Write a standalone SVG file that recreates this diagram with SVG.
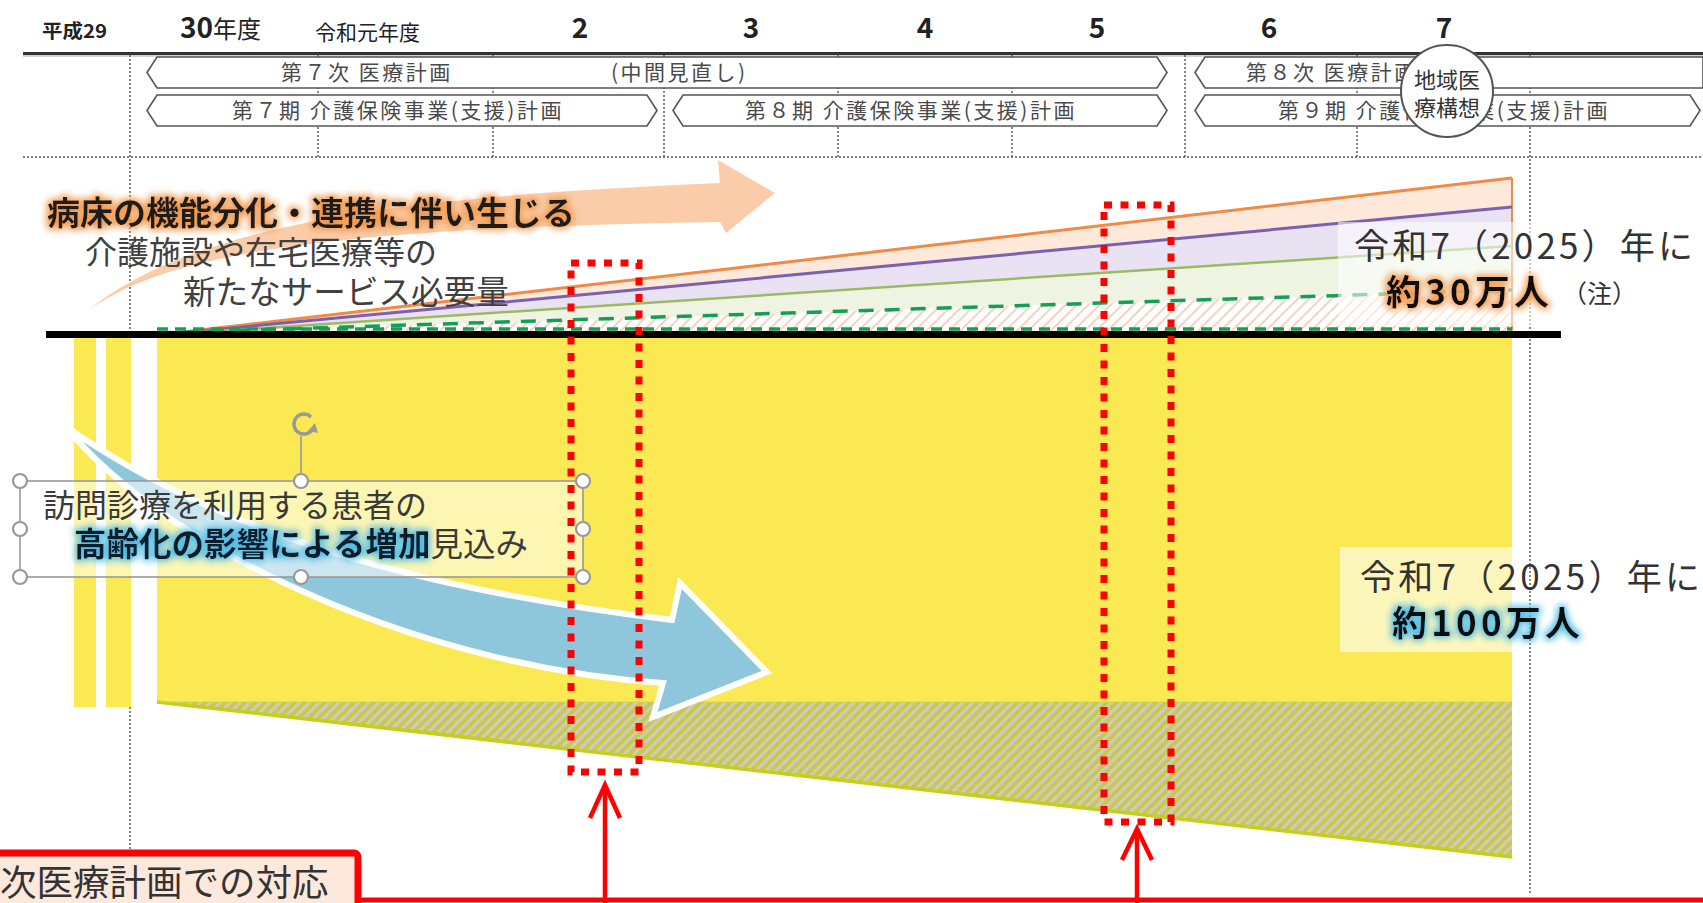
<svg xmlns="http://www.w3.org/2000/svg" width="1703" height="903" viewBox="0 0 1703 903">
<defs>
<style>
.jp{font-family:"Noto Sans CJK JP","Noto Sans",sans-serif;font-variant-ligatures:none;font-feature-settings:"liga" 0,"dlig" 0;}
.yr{font-family:"Noto Sans CJK JP","Noto Sans",sans-serif;font-weight:bold;fill:#222;}
.band{fill:#fff;stroke:#555;stroke-width:1.6;}
.bt{font-family:"Noto Sans CJK JP",sans-serif;font-size:21px;letter-spacing:2.5px;fill:#4a4a4a;}
.vd{stroke:#555;stroke-width:1.4;stroke-dasharray:2 2;fill:none;}
.handle{fill:#fff;stroke:#999;stroke-width:2.2;}
.reddot{fill:none;stroke:#ff0000;stroke-width:7;stroke-dasharray:8 8.5;}
.redarrow{fill:none;stroke:#ff0000;stroke-width:4.5;}
</style>
<pattern id="hatchY" patternUnits="userSpaceOnUse" width="7" height="7" patternTransform="rotate(45)">
<rect width="7" height="7" fill="#c8c94a"/>
<rect width="3.2" height="7" fill="#d0cabf"/>
</pattern>
<pattern id="hatchP" patternUnits="userSpaceOnUse" width="8" height="8" patternTransform="rotate(45)">
<rect width="8" height="8" fill="#ffffff"/>
<rect width="2" height="8" fill="#f3d3be"/>
</pattern>
<filter id="glowO" x="-10%" y="-40%" width="120%" height="180%">
<feMorphology in="SourceAlpha" operator="dilate" radius="2" result="d"/>
<feGaussianBlur in="d" stdDeviation="3.5" result="b"/>
<feFlood flood-color="#f29a4e"/>
<feComposite in2="b" operator="in" result="g"/>
<feMerge><feMergeNode in="g"/><feMergeNode in="SourceGraphic"/></feMerge>
</filter>
<filter id="glowB" x="-10%" y="-40%" width="120%" height="180%">
<feMorphology in="SourceAlpha" operator="dilate" radius="2" result="d"/>
<feGaussianBlur in="d" stdDeviation="3.5" result="b"/>
<feFlood flood-color="#52bde6"/>
<feComposite in2="b" operator="in" result="g"/>
<feMerge><feMergeNode in="g"/><feMergeNode in="SourceGraphic"/></feMerge>
</filter>
</defs>
<rect width="1703" height="903" fill="#fff"/>

<g id="header">
<text class="yr" x="42" y="38" font-size="19" textLength="65" lengthAdjust="spacingAndGlyphs">平成29</text>
<text class="yr" x="180" y="38" font-size="28">30<tspan font-size="24" font-weight="normal">年度</tspan></text>
<text class="jp" x="315" y="40" font-size="21" fill="#222">令和元年度</text>
<text class="yr" x="580" y="38" font-size="28" text-anchor="middle">2</text>
<text class="yr" x="751" y="38" font-size="28" text-anchor="middle">3</text>
<text class="yr" x="925" y="38" font-size="28" text-anchor="middle">4</text>
<text class="yr" x="1097" y="38" font-size="28" text-anchor="middle">5</text>
<text class="yr" x="1269" y="38" font-size="28" text-anchor="middle">6</text>
<text class="yr" x="1444" y="38" font-size="28" text-anchor="middle">7</text>
<rect x="23" y="52" width="1680" height="3" fill="#333"/>
<rect x="23" y="55.5" width="1680" height="1" fill="#aaa"/>
<line x1="23" y1="157" x2="1703" y2="157" class="vd"/>
<line x1="130" y1="55" x2="130" y2="853" class="vd"/>
<line x1="318" y1="55" x2="318" y2="157" class="vd"/>
<line x1="493" y1="55" x2="493" y2="157" class="vd"/>
<line x1="664" y1="55" x2="664" y2="157" class="vd"/>
<line x1="838" y1="55" x2="838" y2="157" class="vd"/>
<line x1="1012" y1="55" x2="1012" y2="157" class="vd"/>
<line x1="1185" y1="55" x2="1185" y2="157" class="vd"/>
<line x1="1357" y1="55" x2="1357" y2="157" class="vd"/>
<line x1="1530" y1="55" x2="1530" y2="895" class="vd"/>
</g>

<g id="plan-iryo7">
<polygon class="band" points="147,72.5 157,57 1157,57 1167,72.5 1157,88 157,88"/>
<text class="bt" x="281" y="80">第７次 医療計画</text>
<text class="bt" x="611" y="80">(中間見直し)</text>
</g>
<g id="plan-iryo8">
<polygon class="band" points="1195,72.5 1205,57 1703,57 1703,88 1205,88"/>
<text class="bt" x="1246" y="80">第８次 医療計画</text>
</g>
<g id="plan-kaigo7">
<polygon class="band" points="147,110.5 157,95 647,95 657,110.5 647,126 157,126"/>
<text class="bt" x="232" y="118">第７期 介護保険事業(支援)計画</text>
</g>
<g id="plan-kaigo8">
<polygon class="band" points="673,110.5 683,95 1157,95 1167,110.5 1157,126 683,126"/>
<text class="bt" x="745" y="118">第８期 介護保険事業(支援)計画</text>
</g>
<g id="plan-kaigo9">
<polygon class="band" points="1195,110.5 1205,95 1690,95 1700,110.5 1690,126 1205,126"/>
<text class="bt" x="1278" y="118">第９期 介護保険事業(支援)計画</text>
</g>
<g id="chiiki">
<circle cx="1447" cy="91" r="46" fill="#fff" stroke="#555" stroke-width="2"/>
<text class="jp" x="1447" y="88" font-size="22" fill="#333" text-anchor="middle">地域医</text>
<text class="jp" x="1447" y="116" font-size="22" fill="#333" text-anchor="middle">療構想</text>
</g>

<g id="chart">
<rect x="74" y="338" width="22" height="369" fill="#fbe954"/>
<rect x="106" y="338" width="25" height="369" fill="#fbe954"/>
<rect x="157" y="338" width="1355" height="364" fill="#fbe954"/>
<polygon points="157,702 1512,702 1512,857" fill="url(#hatchY)"/>
<line x1="157" y1="702" x2="1512" y2="857" stroke="#c3cf1c" stroke-width="3.5"/>
<line x1="157" y1="702" x2="1512" y2="702" stroke="#d8d24a" stroke-width="1"/>
<polygon points="157,335 1512,178 1512,333" fill="#fde8da"/>
<polygon points="157,335 1512,207 1512,333" fill="#e9e2f2"/>
<polygon points="157,335 1512,246 1512,333" fill="#eef3e2"/>
<polygon points="157,333 1512,290 1512,331 157,331" fill="url(#hatchP)"/>
<line x1="157" y1="335" x2="1512" y2="178" stroke="#f08a44" stroke-width="3"/>
<line x1="1512" y1="178" x2="1512" y2="333" stroke="#f08a44" stroke-width="2"/>
<line x1="157" y1="335" x2="1512" y2="207" stroke="#7b60b2" stroke-width="3"/>
<line x1="157" y1="335" x2="1512" y2="246" stroke="#9cba62" stroke-width="2.5"/>
<line x1="157" y1="333" x2="1512" y2="290" stroke="#13a056" stroke-width="3.5" stroke-dasharray="15 11"/>
<line x1="157" y1="329" x2="1512" y2="329" stroke="#13a056" stroke-width="3.5" stroke-dasharray="11 7"/>
<rect x="46" y="331" width="1515" height="7" fill="#000"/>
</g>

<g id="orange-arrow">
<path d="M85,313 C160,255 320,228 720,222 L726,233 L775,193 L718,160 L720,183 C450,195 200,215 85,313 Z" fill="#f9c6a0" opacity="0.9"/>
</g>
<g id="label-upper">
<text class="jp" x="47" y="225" font-size="33" font-weight="bold" fill="#1a1a1a" filter="url(#glowO)">病床の機能分化・連携に伴い生じる</text>
<text class="jp" x="85" y="264" font-size="32" fill="#404040">介護施設や在宅医療等の</text>
<text class="jp" x="183" y="304" font-size="32.6" fill="#404040">新たなサービス必要量</text>
</g>

<g id="blue-arrow">
<path d="M65,426 C200,520 380,585 672,620 L680,583 L767,672 L653,717 L663,683 C430,668 170,555 65,426 Z" fill="#8ec7dc" stroke="#fff" stroke-width="6" stroke-linejoin="miter"/>
</g>

<g id="textbox">
<rect x="20" y="481" width="563" height="96" fill="#ffffff" opacity="0.55"/>
<rect x="20" y="481" width="563" height="96" fill="none" stroke="#999" stroke-width="1.6"/>
<line x1="301" y1="436" x2="301" y2="481" stroke="#999" stroke-width="1.6"/>
<path d="M311,417 A10,10 0 1 0 312,430" fill="none" stroke="#999" stroke-width="3.5"/>
<polygon points="308,431 318,433 315,423" fill="#999"/>
<text class="jp" x="43" y="517" font-size="32" fill="#3a3a3a">訪問診療を利用する患者の</text>
<text class="jp" x="74" y="556" font-size="32.5" fill="#3a3a3a"><tspan font-weight="bold" fill="#0b1b25" filter="url(#glowB)">高齢化の影響による増加</tspan>見込み</text>
<circle class="handle" cx="20" cy="481" r="7"/>
<circle class="handle" cx="301" cy="481" r="7"/>
<circle class="handle" cx="583" cy="481" r="7"/>
<circle class="handle" cx="20" cy="529" r="7"/>
<circle class="handle" cx="583" cy="529" r="7"/>
<circle class="handle" cx="20" cy="577" r="7"/>
<circle class="handle" cx="301" cy="577" r="7"/>
<circle class="handle" cx="583" cy="577" r="7"/>
</g>

<g id="label-30">
<rect x="1338" y="222" width="365" height="104" fill="#fff" opacity="0.55"/>
<text class="jp" x="1354" y="259" font-size="35" fill="#333" textLength="339">令和7（2025）年に</text>
<text class="jp" x="1386" y="305" font-size="35" font-weight="bold" fill="#111" filter="url(#glowO)" textLength="163">約30万人</text>
<text class="jp" x="1562" y="303" font-size="25" fill="#333"><tspan>（</tspan><tspan>注</tspan><tspan>）</tspan></text>
</g>

<g id="label-100">
<rect x="1340" y="547" width="172" height="105" fill="#fff" opacity="0.6"/>
<text class="jp" x="1360" y="590" font-size="35" fill="#333" textLength="340">令和7（2025）年に</text>
<text class="jp" x="1392" y="636" font-size="35" font-weight="bold" fill="#111" filter="url(#glowB)" textLength="188">約100万人</text>
</g>

<g id="connectors">
<rect class="reddot" x="571" y="263" width="68" height="509"/>
<rect class="reddot" x="1104" y="205" width="67" height="617"/>
<line class="redarrow" x1="605" y1="903" x2="605" y2="785"/>
<polyline class="redarrow" points="590,818 605,785 620,818"/>
<line class="redarrow" x1="1137" y1="903" x2="1137" y2="829"/>
<polyline class="redarrow" points="1122,860 1137,829 1152,860"/>
</g>

<g id="bottom-box">
<rect x="-10" y="853" width="368" height="80" rx="4" fill="#fde8dc" stroke="#ff0000" stroke-width="7"/>
<line x1="358" y1="900" x2="1703" y2="900" stroke="#ff0000" stroke-width="5"/>
<text class="jp" x="0" y="896" font-size="36.5" fill="#333">次医療計画での対応</text>
</g>
</svg>
